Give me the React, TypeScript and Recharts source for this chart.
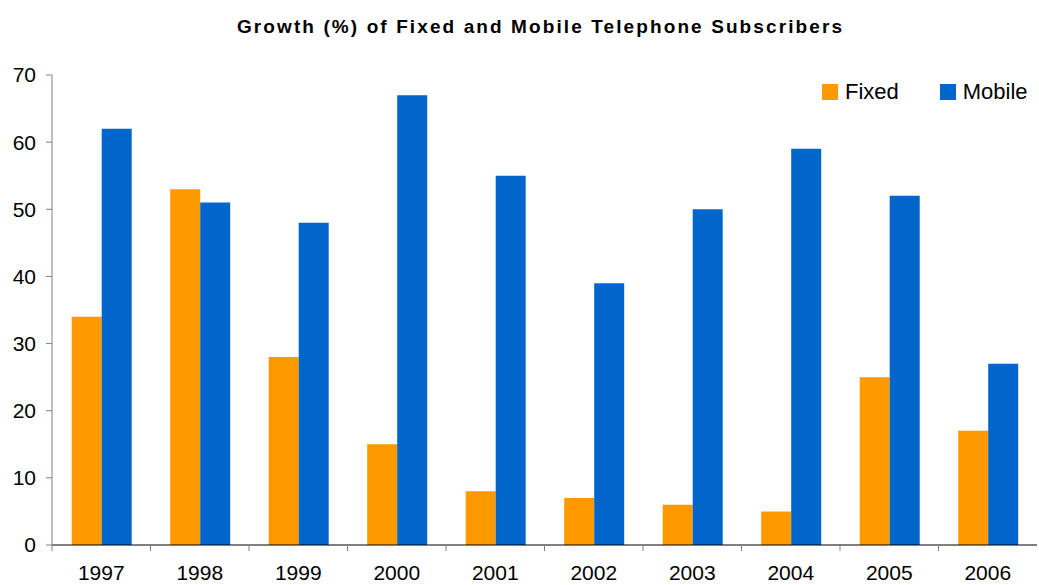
import React from 'react';
import { BarChart, Bar, XAxis, YAxis, Legend } from 'recharts';

const years = ['1997', '1998', '1999', '2000', '2001', '2002', '2003', '2004', '2005', '2006'];
const fixedGrowth = [34, 53, 28, 15, 8, 7, 6, 5, 25, 17];
const mobileGrowth = [62, 51, 48, 67, 55, 39, 50, 59, 52, 27];
const yTicks = [0, 10, 20, 30, 40, 50, 60, 70];

const data = years.map((year, i) => ({
  year,
  fixed: fixedGrowth[i],
  mobile: mobileGrowth[i],
}));

const FONT = '"Liberation Sans", Arial, sans-serif';
const W = 1039;
const H = 585;
const PLOT_LEFT = 52;
const PLOT_RIGHT = 1037;
const BAND = (PLOT_RIGHT - PLOT_LEFT) / years.length;

// label at category centre, tick mark on the category boundary
function YearTick(props: any) {
  const { x, y, payload } = props;
  const left = x - BAND / 2;
  return (
    <g>
      <line x1={left} x2={left} y1={y} y2={y + 6} stroke="#808080" strokeWidth={1} />
      <text x={x} y={y + 35} textAnchor="middle" fontSize={21} fontFamily={FONT} fill="#000">
        {payload.value}
      </text>
    </g>
  );
}

function LegendBox({ payload }: any) {
  return (
    <div style={{ display: 'flex', alignItems: 'center', fontFamily: FONT, fontSize: 22, color: '#000' }}>
      {(payload || []).map((p: any) => (
        <div key={p.value} style={{ display: 'flex', alignItems: 'center', marginRight: 41 }}>
          <span style={{ width: 16, height: 16, background: p.color, display: 'inline-block', marginRight: 7 }} />
          <span>{p.value}</span>
        </div>
      ))}
    </div>
  );
}

export default function App() {
  return (
    <div style={{ position: 'absolute', left: 0, top: 0, width: W, height: H, background: '#fff' }}>
      <div
        style={{
          position: 'absolute',
          top: 16,
          left: 42,
          width: W - 42,
          textAlign: 'center',
          fontFamily: FONT,
          fontWeight: 'bold',
          fontSize: 19,
          letterSpacing: 2.1,
          color: '#000',
        }}
      >
        Growth (%) of Fixed and Mobile Telephone Subscribers
      </div>
      <BarChart
        width={W}
        height={H}
        data={data}
        margin={{ top: 75, right: W - PLOT_RIGHT, left: 0, bottom: 0 }}
        barCategoryGap="20%"
        barGap={0}
      >
        <XAxis
          dataKey="year"
          height={40}
          stroke="#000"
          tickLine={false}
          tickSize={0}
          tickMargin={0}
          tick={<YearTick />}
          interval={0}
        />
        <YAxis
          width={PLOT_LEFT}
          domain={[0, 70]}
          ticks={yTicks}
          stroke="#808080"
          tickSize={6}
          tickMargin={10}
          tick={{ fontSize: 21, fontFamily: FONT, fill: '#000' }}
          interval={0}
        />
        <Legend
          verticalAlign="middle"
          content={<LegendBox />}
          wrapperStyle={{ position: 'absolute', top: 79, left: 822, width: 'auto' }}
        />
        <Bar dataKey="fixed" name="Fixed" fill="#FF9900" isAnimationActive={false} />
        <Bar dataKey="mobile" name="Mobile" fill="#0066CC" isAnimationActive={false} />
      </BarChart>
    </div>
  );
}
